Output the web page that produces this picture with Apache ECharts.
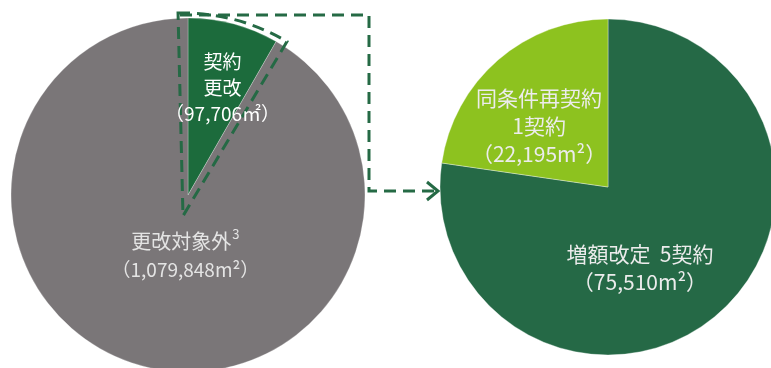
<!DOCTYPE html>
<html>
<head>
<meta charset="utf-8">
<script src="https://cdn.jsdelivr.net/npm/echarts@6/dist/echarts.min.js"></script>
<style>
  html, body { margin: 0; padding: 0; background: #ffffff; }
  #chart { width: 771px; height: 368px; }
</style>
</head>
<body>
<div id="chart"></div>
<script>
// Left pie: renewed contracts vs. out of scope (m²)
const leftNames = ['契約更改', '更改対象外'];
const leftValues = [97706, 1079848];

// Right pie: breakdown of renewed contracts
const rightNames = ['増額改定', '同条件再契約'];
const rightValues = [75510, 22195];
const rightContracts = [5, 1];

const fmt = (v) => v.toLocaleString('en-US');
const font = '"Noto Sans CJK JP", "Noto Sans", sans-serif';

const chart = echarts.init(document.getElementById('chart'));

const leftColors = ['#1c6b3c', '#7a7678'];
const rightColors = ['#256946', '#8dc21f'];
const dashColor = '#256a45';
const deg = Math.PI / 180;

// label nudges from the default inside position
const leftShift = [{ dx: 11, dy: -19 }, { dx: 21, dy: -28 }];
const rightShift = [{ dx: -25, dy: 15 }, { dx: -12, dy: 5 }];

const leftPie = {
    type: 'pie',
    center: [188, 195],
    radius: [0, 177],
    startAngle: 90,
    clockwise: true,
    avoidLabelOverlap: false,
    silent: true
};

const option = {
    backgroundColor: '#ffffff',
    animation: false,
    textStyle: { fontFamily: font },
    series: [
        Object.assign({}, leftPie, {
            name: 'left',
            z: 1,
            itemStyle: { borderColor: 'rgba(255,255,255,0.25)', borderWidth: 1 },
            label: { show: false },
            labelLine: { show: false },
            data: leftNames.map((n, i) => ({
                name: n,
                value: leftValues[i],
                itemStyle: { color: leftColors[i] }
            }))
        }),
        // same slices again, see-through, only to put the labels above the dashed outline
        Object.assign({}, leftPie, {
            name: 'leftLabels',
            z: 5,
            itemStyle: { color: 'rgba(0,0,0,0)', borderWidth: 0 },
            label: {
                show: true,
                position: 'inside',
                fontFamily: font,
                fontSize: 19,
                lineHeight: 26,
                align: 'center',
                formatter: (p) => p.dataIndex === 0
                    ? '契約\n更改\n（' + fmt(p.value) + '㎡）'
                    : '{t|' + p.name + '}{s|3}\n{u|（' + fmt(p.value) + 'm²）}',
                rich: {
                    t: { fontSize: 20, lineHeight: 28, color: '#e4e4e4', fontFamily: font },
                    u: { fontSize: 19, lineHeight: 28, color: '#e4e4e4', fontFamily: font },
                    s: { fontSize: 13, lineHeight: 28, color: '#e4e4e4', verticalAlign: 'top', padding: [0, 0, 10, 1], fontFamily: font }
                }
            },
            labelLayout: (p) => leftShift[p.dataIndex],
            data: leftNames.map((n, i) => ({
                name: n,
                value: leftValues[i],
                label: { color: i === 0 ? '#ffffff' : '#e4e4e4' }
            }))
        }),
        {
            name: 'right',
            type: 'pie',
            z: 1,
            center: [608, 187],
            radius: [0, 168],
            startAngle: 90,
            clockwise: true,
            avoidLabelOverlap: false,
            silent: true,
            itemStyle: { borderColor: 'rgba(255,255,255,0.35)', borderWidth: 1 },
            label: {
                show: true,
                position: 'inside',
                color: '#ececec',
                fontFamily: font,
                fontSize: 21,
                lineHeight: 28,
                align: 'center',
                formatter: (p) => p.dataIndex === 0
                    ? p.name + '  ' + rightContracts[0] + '契約\n（' + fmt(p.value) + 'm²）'
                    : p.name + '\n' + rightContracts[1] + '契約\n（' + fmt(p.value) + 'm²）'
            },
            labelLayout: (p) => rightShift[p.dataIndex],
            data: rightNames.map((n, i) => ({
                name: n,
                value: rightValues[i],
                itemStyle: { color: rightColors[i] }
            }))
        }
    ],
    graphic: [
        {
            // dashed outline around the renewed slice
            type: 'sector',
            z: 3,
            shape: { cx: 183, cy: 216, r: 203, startAngle: -91.4 * deg, endAngle: -59.2 * deg },
            style: { stroke: dashColor, lineWidth: 3, fill: null, lineDash: [12, 7] }
        },
        {
            type: 'polyline',
            z: 3,
            shape: { points: [[180, 15], [369, 15], [369, 191], [436, 191]] },
            style: { stroke: dashColor, lineWidth: 3, fill: null, lineDash: [12, 7] }
        },
        {
            type: 'polyline',
            z: 3,
            shape: { points: [[427, 182], [438, 191], [427, 200]] },
            style: { stroke: dashColor, lineWidth: 3, fill: null }
        }
    ]
};

chart.setOption(option);
</script>
</body>
</html>
